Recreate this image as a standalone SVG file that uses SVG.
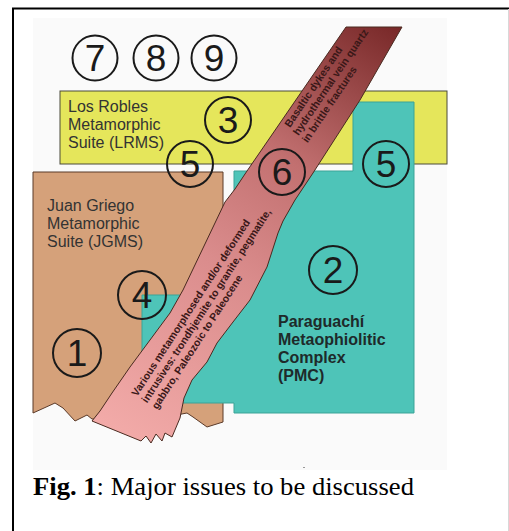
<svg xmlns="http://www.w3.org/2000/svg" width="509" height="531" viewBox="0 0 509 531">
<defs>
<linearGradient id="bandGrad" gradientUnits="userSpaceOnUse" x1="400" y1="27" x2="130" y2="440">
<stop offset="0" stop-color="#782828"/>
<stop offset="0.35" stop-color="#c27070"/>
<stop offset="0.6" stop-color="#da8c8c"/>
<stop offset="1" stop-color="#f2aaa8"/>
</linearGradient>
<style>
.num{font-family:"Liberation Sans",Arial,sans-serif;font-size:37px;fill:#1a1a1a;text-anchor:middle}
.ring{fill:none;stroke:#1a1a1a;stroke-width:2}
.lbl{font-family:"Liberation Sans",Arial,sans-serif;font-size:16px;fill:#333}
.lblb{font-family:"Liberation Sans",Arial,sans-serif;font-size:16px;font-weight:bold;fill:#1e2a2a}
.band{font-family:"Liberation Sans",Arial,sans-serif;font-size:10.5px;font-weight:bold;fill:#3a1818}
</style>
</defs>
<rect x="0" y="0" width="509" height="531" fill="#ffffff"/>
<g id="frame">
<line x1="13" y1="8" x2="13" y2="531" stroke="#000" stroke-width="2"/>
<line x1="12" y1="8.5" x2="509" y2="8.5" stroke="#000" stroke-width="2"/>
<line x1="508.5" y1="9" x2="508.5" y2="531" stroke="#d8d8d8" stroke-width="1"/>
</g>
<rect id="panel" x="33" y="18" width="414" height="452" fill="#fafafa"/>
<g id="lrms">
<rect x="60" y="91" width="387" height="73" fill="#e5e65b" stroke="#4a4a3a" stroke-width="1"/>
<text class="lbl" x="68" y="112">Los Robles</text>
<text class="lbl" x="68" y="130">Metamorphic</text>
<text class="lbl" x="68" y="148">Suite (LRMS)</text>
</g>
<g id="jgms">
<polygon points="33,172 223,172 223,422 207,427 193,417 187,413 150,420 92,419 87,415 75,421 63,408 55,403 33,413" fill="#d5a17a" stroke="#5b3a29" stroke-width="1"/>
<text class="lbl" x="47" y="211">Juan Griego</text>
<text class="lbl" x="47" y="229">Metamorphic</text>
<text class="lbl" x="47" y="247">Suite (JGMS)</text>
</g>
<g id="pmc">
<polygon points="234,171 353,171 353,102 414,102 414,413 234,413 234,403 142,403 142,295 234,295" fill="#4ec4b8" stroke="#3aa397" stroke-width="1"/>
<text class="lblb" x="278" y="327">Paraguachí</text>
<text class="lblb" x="278" y="345">Metaophiolitic</text>
<text class="lblb" x="278" y="363">Complex</text>
<text class="lblb" x="278" y="381">(PMC)</text>
</g>
<g id="intrusive-band">
<polygon points="346,27 402,27 360,100 313,173 295,200 283,221 278,233 267,267 250,300 233,322 217,343 207,362 192,380 184,398 180,418 172,437 165,433 162,441 156,434 151,443 146,436 141,441 92,421 100,411 112,393 130,367 150,340 170,313 183,290 225,202 235,189 247,171" fill="url(#bandGrad)" stroke="#4a2a20" stroke-width="1"/>
<g transform="translate(290,128) rotate(-56)">
<text class="band" x="0" y="0">Basaltic dykes and</text>
<text class="band" x="-2" y="11.5">hydrothermal vein quartz</text>
<text class="band" x="-3" y="23">in brittle fractures</text>
</g>
<g transform="translate(137,397) rotate(-57)">
<text class="band" x="0" y="0">Various metamorphosed and/or deformed</text>
<text class="band" x="0" y="12">intrusives: trondhjemite to granite, pegmatite,</text>
<text class="band" x="0" y="24">gabbro, Paleozoic to Paleocene</text>
</g>
</g>
<g id="issues">
<g id="issue-7"><circle class="ring" cx="95" cy="58" r="22.5"/><text class="num" x="95" y="71">7</text></g>
<g id="issue-8"><circle class="ring" cx="156" cy="58" r="22.5"/><text class="num" x="156" y="71">8</text></g>
<g id="issue-9"><circle class="ring" cx="214" cy="58" r="22.5"/><text class="num" x="214" y="71">9</text></g>
<g id="issue-3"><circle class="ring" cx="228" cy="120" r="23"/><text class="num" x="228" y="133">3</text></g>
<g id="issue-5a"><circle class="ring" cx="190" cy="164" r="23"/><text class="num" x="190" y="177">5</text></g>
<g id="issue-6"><circle class="ring" cx="282" cy="172" r="23"/><text class="num" x="282" y="185">6</text></g>
<g id="issue-5b"><circle class="ring" cx="386" cy="164" r="23"/><text class="num" x="386" y="177">5</text></g>
<g id="issue-2"><circle class="ring" cx="333" cy="270" r="24"/><text class="num" x="333" y="283">2</text></g>
<g id="issue-4"><circle class="ring" cx="142" cy="295" r="24"/><text class="num" x="142" y="308">4</text></g>
<g id="issue-1"><circle class="ring" cx="77" cy="353" r="24"/><text class="num" x="77" y="366">1</text></g>
</g>
<rect x="303" y="467" width="2" height="1" fill="#999"/>
<text x="33" y="495" font-family="'Liberation Serif','Times New Roman',serif" font-size="26" fill="#000" textLength="381" lengthAdjust="spacingAndGlyphs"><tspan font-weight="bold">Fig. 1</tspan>: Major issues to be discussed</text>
</svg>
